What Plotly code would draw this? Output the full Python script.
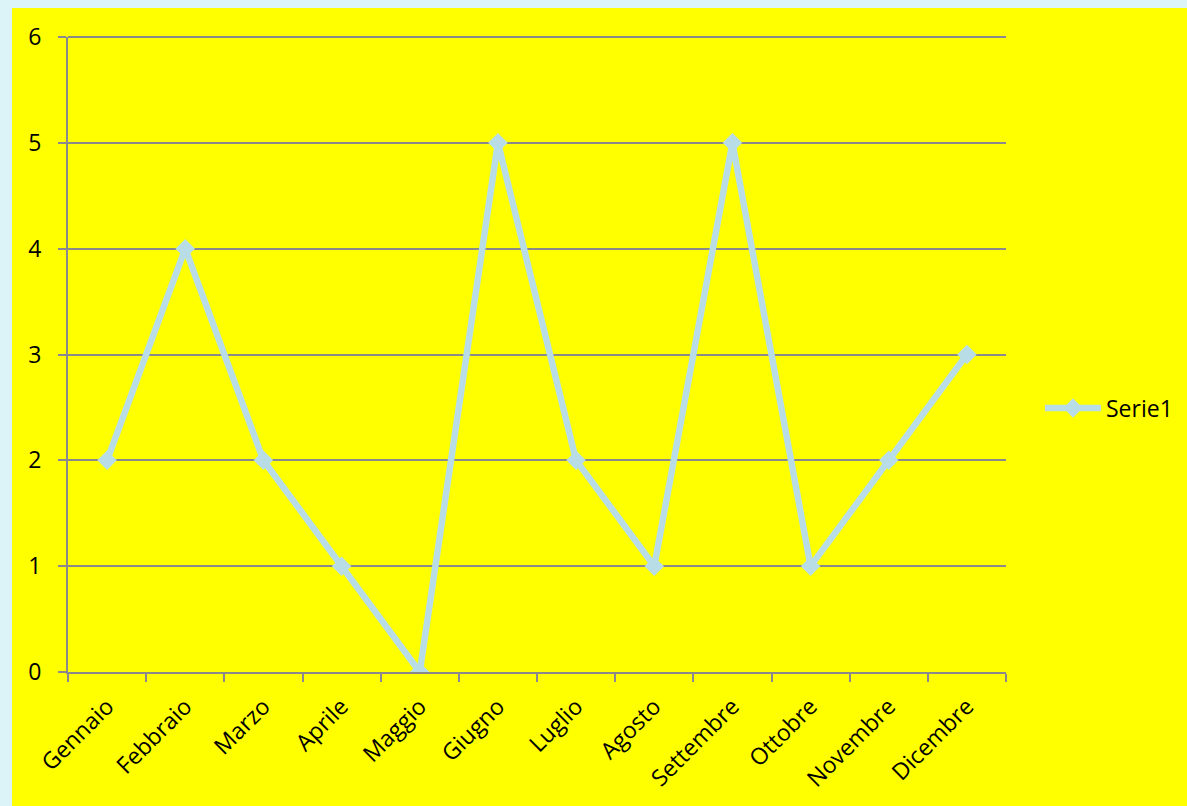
import plotly.graph_objects as go

# Monthly series
mesi = ["Gennaio", "Febbraio", "Marzo", "Aprile", "Maggio", "Giugno",
        "Luglio", "Agosto", "Settembre", "Ottobre", "Novembre", "Dicembre"]
serie1 = [2, 4, 2, 1, 0, 5, 2, 1, 5, 1, 2, 3]
y_ticks = [0, 1, 2, 3, 4, 5, 6]

W, H = 1187, 806
L, R, T, B = 68, 181, 37, 134
pw, ph = W - L - R, H - T - B

YELLOW = "#FFFF00"
GRID = "#8A8A8A"
LINE = "#B8DDE6"
FONT = dict(family="Open Sans, Noto Sans, sans-serif", size=23, color="#000000")

fig = go.Figure()
fig.add_trace(go.Scatter(
    x=mesi, y=serie1, name="Serie1", mode="lines+markers",
    line=dict(color=LINE, width=6.5),
    marker=dict(symbol="diamond", size=15, color=LINE),
))

# yellow chart panel over the pale page
fig.add_shape(type="rect", xref="paper", yref="paper", layer="below",
              x0=(12 - L) / pw, x1=(W + 5 - L) / pw,
              y0=-(H + 5 - (T + ph)) / ph, y1=(T + ph - 8) / ph,
              fillcolor=YELLOW, line=dict(width=0))
# top gridline along the upper edge of the plot area
fig.add_shape(type="line", xref="paper", yref="paper", layer="below",
              x0=0, x1=1, y0=1, y1=1,
              line=dict(color=GRID, width=2))

fig.update_layout(
    width=W, height=H,
    margin=dict(l=L, r=R, t=T, b=B, autoexpand=False),
    paper_bgcolor="#DCF4F8",
    plot_bgcolor=YELLOW,
    font=FONT,
    showlegend=True,
    legend=dict(x=(1040 - L) / pw, xanchor="left", y=(672 - 408) / ph,
                yanchor="middle", bgcolor="rgba(0,0,0,0)", itemwidth=56,
                font=FONT),
)
fig.update_xaxes(
    type="category", range=[-0.5, 11.5], tickson="boundaries",
    ticks="outside", ticklen=8, tickwidth=2, tickcolor=GRID,
    showline=True, linecolor=GRID, linewidth=2,
    showgrid=False, tickangle=-45, zeroline=False, ticklabelstandoff=10,
)
fig.update_yaxes(
    range=[0, 6], tickvals=y_ticks, ticks="outside", ticklen=8, tickwidth=2,
    tickcolor=GRID, showline=True, linecolor=GRID, linewidth=2,
    showgrid=True, gridcolor=GRID, gridwidth=2, zeroline=False,
    ticklabelstandoff=12,
)

fig.write_html("out.html")
